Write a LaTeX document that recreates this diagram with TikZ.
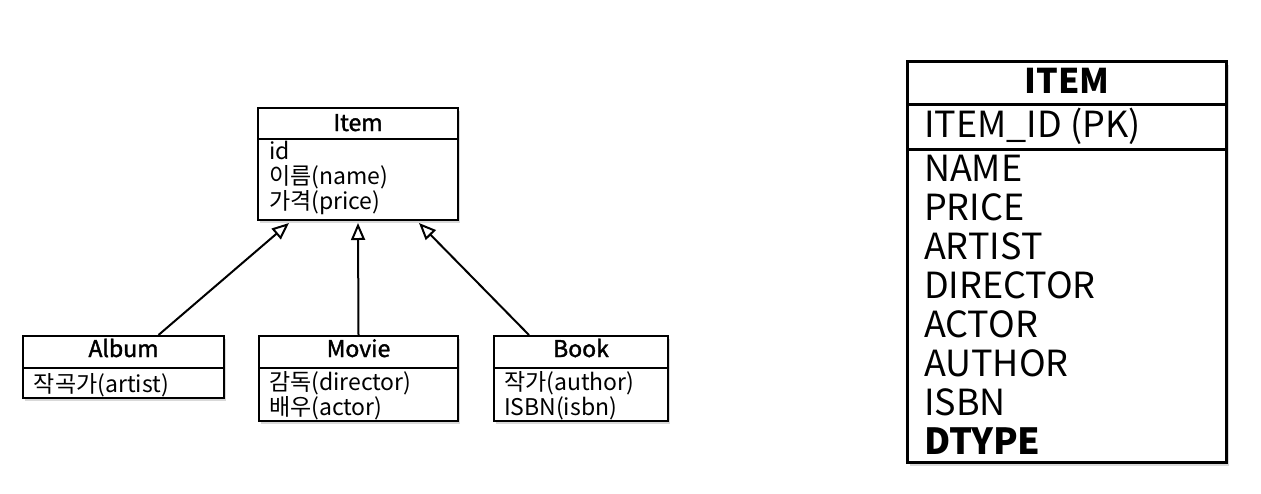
\documentclass[tikz,border=0pt]{standalone}
\usepackage{fontspec}
\setmainfont{Noto Sans CJK KR}
\newfontfamily\medfont{Noto Sans CJK KR}[FakeBold=1.6]
\usetikzlibrary{arrows.meta, calc, shadows, positioning}

\begin{document}
\begin{tikzpicture}[x=1pt, y=-1pt, line width=2pt,
  >={Triangle[open, length=17pt, width=14pt, fill=white]},
  every node/.style={font=\fontsize{23}{25}\selectfont, inner sep=0pt},
  box/.style={draw, fill=white, anchor=north west, drop shadow={shadow xshift=2pt, shadow yshift=-3pt, opacity=0.3}},
  txt/.style={anchor=base west},
  hdr/.style={anchor=base, font=\fontsize{23}{25}\medfont},
  tbl/.style={font=\fontsize{36}{39}\selectfont}]
  \useasboundingbox (0,0) rectangle (1261,493);

  % class Item
  \node[box, minimum width=200pt, minimum height=31pt] (itemhead) at (257,107) {};
  \node[box, minimum width=200pt, minimum height=81pt] (itembody) at (257,138) {};
  \node[hdr] (itemname) at ($(itemhead.north)+(0,24)$) {Item};
  \node[txt] (itemid) at (268,159) {id};
  \node[txt] (itemnm) at (268,184) {이름(name)};
  \node[txt] (itempr) at (268,209) {가격(price)};

  % subclasses
  \node[box, minimum width=201pt, minimum height=32pt] (albumhead) at (22,335) {};
  \node[box, minimum width=201pt, minimum height=30pt] (albumbody) at (22,367) {};
  \node[hdr] (albumname) at ($(albumhead.north)+(0,22)$) {Album};
  \node[txt] (albumart) at (33,392) {작곡가(artist)};

  \node[box, minimum width=199pt, minimum height=32pt] (moviehead) at (258,335) {};
  \node[box, minimum width=199pt, minimum height=53pt] (moviebody) at (258,367) {};
  \node[hdr] (moviename) at ($(moviehead.north)+(0,22)$) {Movie};
  \node[txt] (moviedir) at (268,390) {감독(director)};
  \node[txt] (movieact) at (268,415) {배우(actor)};

  \node[box, minimum width=174pt, minimum height=32pt] (bookhead) at (493,335) {};
  \node[box, minimum width=174pt, minimum height=53pt] (bookbody) at (493,367) {};
  \node[hdr] (bookname) at ($(bookhead.north)+(0,22)$) {Book};
  \node[txt] (bookaut) at (503,390) {작가(author)};
  \node[txt] (bookisbn) at (503,415) {ISBN(isbn)};

  % generalization
  \draw[->] ($(albumhead.north)+(35,0)$) -- ($(itembody.south)+(-69,2)$);
  \draw[->] (moviehead.north) -- ($(itembody.south)+(0,2)$);
  \draw[->] ($(bookhead.north)+(-52,0)$) -- ($(itembody.south)+(61,2)$);

  % table ITEM
  \node[box, line width=3pt, minimum width=319pt, minimum height=43pt] (tblhead) at (906,60) {};
  \node[box, line width=3pt, minimum width=319pt, minimum height=45pt] (tblpk) at (906,103) {};
  \node[box, line width=3pt, minimum width=319pt, minimum height=313pt] (tblcols) at (906,148) {};
  \node[hdr, font=\fontsize{34}{39}\selectfont\bfseries] (tblname) at ($(tblhead.north)+(0,33)$) {ITEM};
  \node[tbl, txt] (tblkey) at (923,137) {ITEM\_ID (PK)};
  \foreach \col [count=\i from 0] in {NAME,PRICE,ARTIST,DIRECTOR,ACTOR,AUTHOR,ISBN}
    \node[tbl, txt] (col\i) at (923,181+39.05*\i) {\col};
  \node[tbl, txt, font=\fontsize{36}{39}\selectfont\bfseries] (coltype) at (923,454) {DTYPE};
\end{tikzpicture}
\end{document}
